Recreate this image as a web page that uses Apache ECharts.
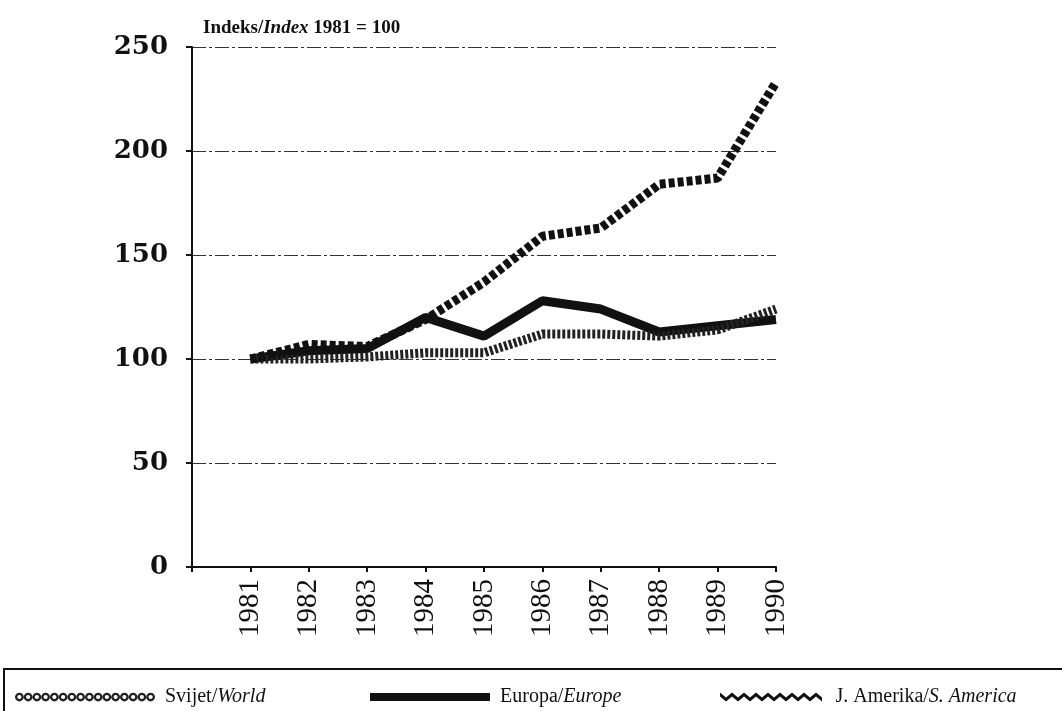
<!DOCTYPE html>
<html><head><meta charset="utf-8">
<script src="https://cdn.jsdelivr.net/npm/echarts@6/dist/echarts.min.js"></script>
<style>html,body{margin:0;padding:0;background:#fff}#c{width:1062px;height:711px}</style>
</head><body><div id="c"></div>
<script>
const years = [1981, 1982, 1983, 1984, 1985, 1986, 1987, 1988, 1989, 1990];
const world = [100, 100, 101, 103, 103, 112, 112, 111, 114, 124];
const europe = [100, 104, 105, 120, 111, 128, 124, 113, 116, 119];
const southAmerica = [100, 107, 106, 119, 137, 159, 163, 184, 187, 233];
const seriesNames = ['Svijet/World', 'Europa/Europe', 'J. Amerika/S. America'];
const yTickLabels = ['0', '50', '100', '150', '200', '250'];

const pairs = (vals) => years.map((y, i) => [y, vals[i]]);

// legend icon shapes
function ringsPath(n) {
  let p = '';
  for (let i = 0; i < n; i++) {
    const cx = i * 10 + 5;
    p += `M${cx - 5} 5 a5 5 0 1 0 10 0 a5 5 0 1 0 -10 0 Z `;
    p += `M${cx - 2.4} 5 a2.4 2.4 0 1 1 4.8 0 a2.4 2.4 0 1 1 -4.8 0 Z `;
  }
  return 'path://' + p;
}
function zigPath(n) {
  const top = [], bot = [];
  for (let i = 0; i <= n; i++) {
    const x = i * 6, y = (i % 2) * 5;
    top.push(`${x} ${y}`);
    bot.push(`${x} ${y + 4}`);
  }
  return 'path://M' + top.join(' L') + ' L' + bot.reverse().join(' L') + ' Z';
}

const serif = '"Liberation Serif", "DejaVu Serif", serif';
const richFmt = (name) => {
  const parts = name.split('/');
  return parts[0] + '/{i|' + parts[1] + '}';
};
const legendText = {
  fontFamily: serif, fontSize: 20, color: '#111', padding: [0, 0, 0, 5],
  rich: { i: { fontFamily: serif, fontSize: 20, fontStyle: 'italic', color: '#111' } }
};

const chart = echarts.init(document.getElementById('c'), null, { renderer: 'canvas' });
chart.setOption({
  backgroundColor: '#ffffff',
  animation: false,
  title: {
    text: 'Indeks/{i|Index} 1981 = 100',
    left: 198, top: 14,
    textStyle: {
      fontFamily: serif, fontSize: 19, fontWeight: 'bold', color: '#111',
      rich: { i: { fontFamily: serif, fontSize: 19, fontWeight: 'bold', fontStyle: 'italic', color: '#111' } }
    }
  },
  grid: { left: 192, right: 286, top: 47, bottom: 144, containLabel: false },
  xAxis: {
    type: 'value', min: 1980, max: 1990, interval: 1,
    axisLine: { show: true, lineStyle: { color: '#111', width: 2 } },
    axisTick: { show: true, length: 5, lineStyle: { color: '#111', width: 2 } },
    splitLine: { show: false },
    axisLabel: {
      rotate: 90, margin: 12, fontFamily: serif, fontSize: 29, color: '#111',
      formatter: (v) => (years.indexOf(v) >= 0 ? String(v) : '')
    }
  },
  yAxis: {
    type: 'value', min: 0, max: 250, interval: 50,
    axisLine: { show: true, lineStyle: { color: '#111', width: 2 } },
    axisTick: { show: true, length: 6, lineStyle: { color: '#111', width: 2 } },
    splitLine: { show: true, lineStyle: { color: '#333', width: 1.2, type: [14, 3, 3, 3] } },
    axisLabel: {
      margin: 24, fontFamily: '"DejaVu Serif", serif', fontWeight: 'bold', fontSize: 26, color: '#111',
      formatter: (v) => yTickLabels[Math.round(v / 50)]
    }
  },
  legend: [
    {
      left: 10, top: 682, itemWidth: 140, itemHeight: 9,
      data: [{ name: seriesNames[0], icon: ringsPath(16) }],
      formatter: richFmt, textStyle: legendText
    },
    {
      left: 365, top: 682, itemWidth: 120, itemHeight: 8,
      data: [{ name: seriesNames[1], icon: 'rect' }],
      formatter: richFmt, textStyle: legendText
    },
    {
      left: 715, top: 682, itemWidth: 105, itemHeight: 9,
      data: [{ name: seriesNames[2], icon: zigPath(17) }],
      formatter: richFmt, textStyle: Object.assign({}, legendText, { padding: [0, 0, 0, 7] })
    }
  ],
  graphic: [
    {
      type: 'rect', silent: true,
      shape: { x: 4, y: 669, width: 1120, height: 80 },
      style: { fill: 'none', stroke: '#111', lineWidth: 2 }
    }
  ],
  series: [
    {
      name: seriesNames[0], type: 'line', data: pairs(world), showSymbol: false, z: 3,
      itemStyle: { color: '#222' },
      lineStyle: { color: '#222', width: 9, type: [3, 2] }
    },
    {
      name: seriesNames[1], type: 'line', data: pairs(europe), showSymbol: false, z: 2,
      itemStyle: { color: '#111' },
      lineStyle: { color: '#111', width: 9 }
    },
    {
      name: seriesNames[2], type: 'line', data: pairs(southAmerica), showSymbol: false, z: 4,
      itemStyle: { color: '#111' },
      lineStyle: { color: '#111', width: 9, type: [6, 3] }
    }
  ]
});
</script>
</body></html>
